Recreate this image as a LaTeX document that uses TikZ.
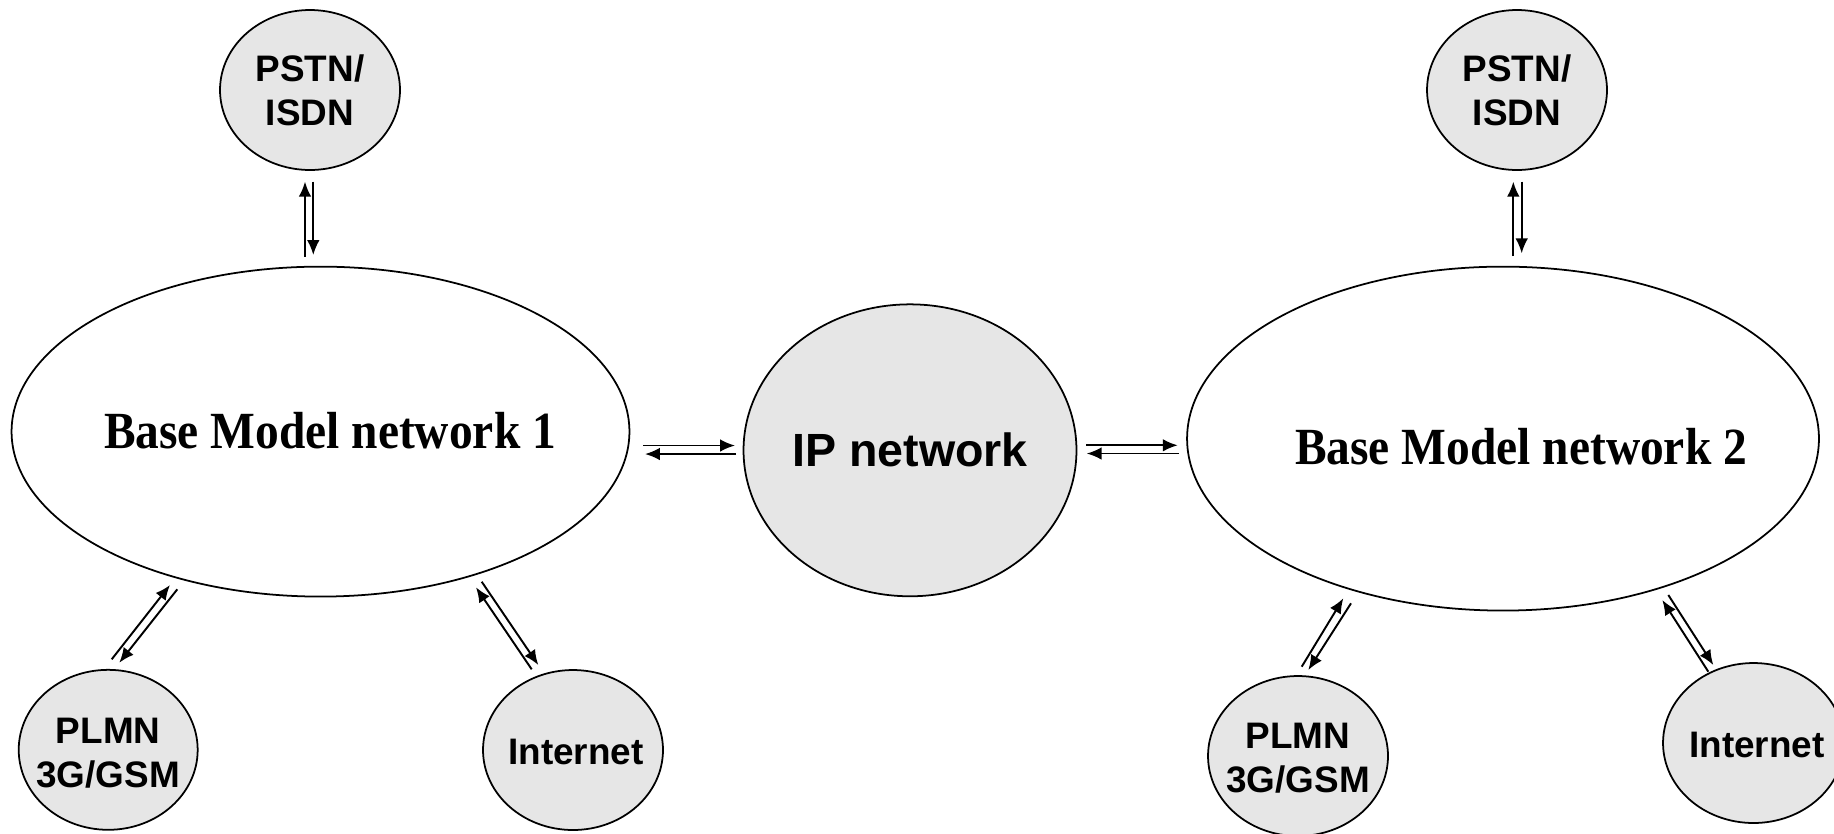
\documentclass[tikz,border=0pt]{standalone}
\usepackage{fontspec}
\setmainfont{Liberation Serif}
\newfontfamily\arialfont{Liberation Sans}
\usetikzlibrary{shapes.geometric,arrows.meta}
\definecolor{netgray}{HTML}{E6E6E6}
\begin{document}
\begin{tikzpicture}[x=0.02cm,y=-0.02cm,
  net/.style={ellipse,draw,line width=1pt,inner sep=0pt},
  smallnet/.style={net,fill=netgray,minimum width=3.6cm,minimum height=3.2cm},
  smalltext/.style={font=\arialfont\bfseries\fontsize{21}{25}\selectfont,align=center,inner sep=0pt},
  bignet/.style={net,fill=white},
  bmlabel/.style={font=\bfseries\fontsize{27}{30}\selectfont,inner sep=0pt},
  arr/.style={line width=1.1pt,-{Latex[length=8.5pt,width=7.2pt]}}]
\clip (0,0) rectangle (1834,833);
\fill[white] (0,0) rectangle (1834,833);
% big networks
\node[bignet,minimum width=12.36cm,minimum height=6.6cm] (bm1) at (320.5,431.6) {};
\node[bmlabel] (bm1t) at (330,431) {\scalebox{1}[1.1]{Base Model network 1}};
\node[net,fill=netgray,minimum width=6.56cm,minimum height=5.84cm,
  font=\arialfont\bfseries\fontsize{26.5}{30}\selectfont] (ip) at (910,450.3) {IP network};
\node[bignet,minimum width=12.64cm,minimum height=6.88cm] (bm2) at (1503,438.6) {};
\node[bmlabel] (bm2t) at (1521,447) {\scalebox{1}[1.1]{Base Model network 2}};
% small networks
\node[smallnet] (pstn1) at (310,90) {};
\node[smalltext] (pstn1t) at (pstn1.center) {PSTN/\\ISDN};
\node[smallnet] (pstn2) at (1517,90) {};
\node[smalltext] (pstn2t) at (pstn2.center) {PSTN/\\ISDN};
\node[smallnet,minimum width=3.58cm] (plmn1) at (108.2,749.8) {};
\node[smalltext] (plmn1t) at (108.2,753) {PLMN\\3G/GSM};
\node[smallnet] (inet1) at (573,750) {};
\node[smalltext] (inet1t) at (576,752) {Internet};
\node[smallnet] (plmn2) at (1298,756) {};
\node[smalltext] (plmn2t) at (1298,758) {PLMN\\3G/GSM};
\node[smallnet,minimum width=3.62cm] (inet2) at (1753.5,743) {};
\node[smalltext] (inet2t) at (1757,745) {Internet};
% arrow end points
\coordinate (h1a) at (643,445.5); \coordinate (h1b) at (735,445.5);
\coordinate (h1c) at (736,454); \coordinate (h1d) at (645,454);
\coordinate (h2a) at (1086,445.3); \coordinate (h2b) at (1177.7,445.3);
\coordinate (h2c) at (1179,453.5); \coordinate (h2d) at (1086.7,453.5);
\coordinate (v1a) at (305,256.7); \coordinate (v1b) at (305,181.7);
\coordinate (v1c) at (313.3,181.7); \coordinate (v1d) at (313.3,255);
\coordinate (v2a) at (1513.3,256); \coordinate (v2b) at (1513.3,181.7);
\coordinate (v2c) at (1521.7,181.7); \coordinate (v2d) at (1521.7,253.3);
\coordinate (d1a) at (111.7,659.3); \coordinate (d1b) at (170,585);
\coordinate (d1c) at (177.3,589.3); \coordinate (d1d) at (119.3,662.7);
\coordinate (d2a) at (531.7,669.3); \coordinate (d2b) at (476,587.3);
\coordinate (d2c) at (481.7,581.7); \coordinate (d2d) at (538.3,665);
\coordinate (d3a) at (1301.7,666.7); \coordinate (d3b) at (1343.3,598.3);
\coordinate (d3c) at (1351,603.3); \coordinate (d3d) at (1308.3,670);
\coordinate (d4a) at (1708.3,671.7); \coordinate (d4b) at (1662.3,600);
\coordinate (d4c) at (1668.3,595); \coordinate (d4d) at (1713.3,665);
% arrows
\draw[arr] (h1a) -- (h1b); \draw[arr] (h1c) -- (h1d);
\draw[arr] (h2a) -- (h2b); \draw[arr] (h2c) -- (h2d);
\draw[arr] (v1a) -- (v1b); \draw[arr] (v1c) -- (v1d);
\draw[arr] (v2a) -- (v2b); \draw[arr] (v2c) -- (v2d);
\draw[arr] (d1a) -- (d1b); \draw[arr] (d1c) -- (d1d);
\draw[arr] (d2a) -- (d2b); \draw[arr] (d2c) -- (d2d);
\draw[arr] (d3a) -- (d3b); \draw[arr] (d3c) -- (d3d);
\draw[arr] (d4a) -- (d4b); \draw[arr] (d4c) -- (d4d);
\end{tikzpicture}
\end{document}
